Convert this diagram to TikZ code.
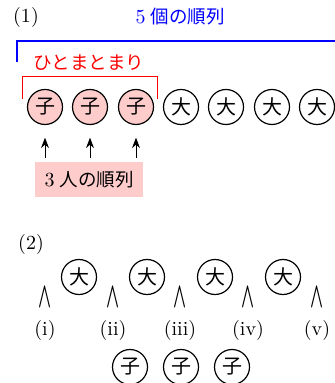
\documentclass[tikz,border=0pt]{standalone}
\usepackage{fontspec}
\newfontfamily\jp[Scale=0.925]{Noto Sans CJK JP}
\usetikzlibrary{arrows.meta,positioning}
\definecolor{grpred}{HTML}{FF0000}
\definecolor{permblue}{HTML}{0000FF}
\definecolor{kofill}{HTML}{FFCCCC}
\newcommand{\jsep}{\hspace{0.25em}}
\tikzset{
  >=Stealth,
  person/.style={draw,circle,line width=0.6pt,minimum size=17.5pt,inner sep=0pt,
                 font=\fontsize{10.8pt}{12pt}\jp},
  ko/.style={person,fill=kofill},
  gap/.style={inner sep=0pt},
  pick/.style={->,line width=0.5pt,shorten >=6.25pt,shorten <=2pt},
}

\begin{document}
\begin{tikzpicture}[x=0.5pt,y=-0.5pt]
  \useasboundingbox (0,0) rectangle (335,383);

  % (1) three children tied together
  \node (p1) at (26,18) {(1)};
  \node[text=permblue] (all) at (180,17) {5\jsep{\jp 個の順列}};
  \draw[permblue,line width=0.6pt] (17,62) -- (17,41) -- (335,41);
  \node[text=grpred,font=\jp] (tie) at (89,63) {ひとまとまり};
  \draw[grpred,line width=0.5pt] (22,99) -- (22,77) -- (157,77) -- (157,99);
  \foreach \i/\x in {1/45,2/90,3/136}
    \node[ko] (k\i) at (\x,107) {子};
  \foreach \i/\x in {4/181,5/226,6/272,7/317}
    \node[person] (k\i) at (\x,107) {大};
  \node[fill=kofill,minimum width=54pt,minimum height=17.5pt] (three) at (89,180)
    {3\jsep{\jp 人の順列}};
  \foreach \i in {1,2,3}
    \draw[pick] (three.north -| k\i) -- (k\i.south);

  % (2) children into the gaps
  \node (p2) at (31,245) {(2)};
  \foreach \i/\x in {1/79,2/147,3/215,4/283}
    \node[person] (d\i) at (\x,277) {大};
  \foreach \i/\x/\r in {1/45/i,2/113/ii,3/180/iii,4/248/iv,5/317/v}{
    \node[gap] (g\i) at (\x,297) {\scalebox{0.85}[1.8]{\boldmath$\wedge$}};
    \node (r\i) at (\x,330) {(\r)};
  }
  \foreach \i/\x in {1/130,2/181,3/232}
    \node[person] (s\i) at (\x,367) {子};
\end{tikzpicture}
\end{document}
